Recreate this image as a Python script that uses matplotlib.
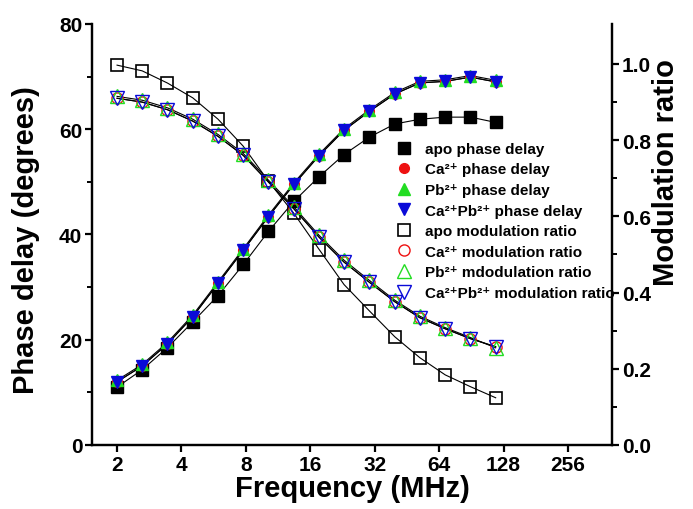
import numpy as np
import matplotlib
matplotlib.use('Agg')
from matplotlib import pyplot as plt
from matplotlib.ticker import FixedLocator, NullLocator

plt.rcParams['font.family'] = ['Liberation Sans', 'DejaVu Sans']
plt.rcParams['font.weight'] = 'bold'

# Modulation frequencies (MHz)
freq = [2.0, 2.62, 3.44, 4.52, 5.93, 7.78, 10.2, 13.4, 17.6, 23.0,
        30.2, 39.7, 52.0, 68.3, 89.6, 117.5]

# Phase delay (degrees)
apo_phase = [11.0, 14.3, 18.5, 23.4, 28.4, 34.3, 40.6, 46.3, 51.0, 55.2,
             58.5, 61.0, 61.9, 62.3, 62.3, 61.3]
ca_phase = [12.0, 15.0, 19.2, 24.4, 30.7, 37.0, 43.4, 49.5, 55.0, 59.8,
            63.4, 66.7, 68.8, 69.1, 69.9, 69.0]
pb_phase = [12.3, 15.3, 19.5, 24.7, 31.0, 37.3, 43.7, 49.8, 55.3, 60.1,
            63.7, 67.0, 69.1, 69.4, 70.2, 69.3]
capb_phase = [12.0, 15.0, 19.2, 24.4, 30.7, 37.0, 43.4, 49.5, 55.0, 59.8,
              63.4, 66.7, 68.8, 69.1, 69.9, 69.0]

# Modulation ratio
apo_mod = [0.997, 0.982, 0.950, 0.911, 0.855, 0.784, 0.692, 0.608, 0.513, 0.421,
           0.352, 0.284, 0.229, 0.184, 0.153, 0.124]
ca_mod = [0.910, 0.900, 0.880, 0.850, 0.810, 0.760, 0.690, 0.620, 0.545, 0.480,
          0.427, 0.376, 0.334, 0.305, 0.279, 0.258]
pb_mod = [0.915, 0.905, 0.885, 0.855, 0.815, 0.765, 0.695, 0.625, 0.550, 0.485,
          0.432, 0.380, 0.338, 0.308, 0.282, 0.255]
capb_mod = [0.910, 0.900, 0.880, 0.850, 0.810, 0.760, 0.690, 0.620, 0.545, 0.480,
            0.427, 0.376, 0.334, 0.305, 0.279, 0.258]

xticks = [2, 4, 8, 16, 32, 64, 128, 256]

BLUE = '#0a0ad8'
GREEN = '#22dd22'
RED = '#ee1111'

fig = plt.figure(figsize=(6.93, 5.10), dpi=100)
ax = fig.add_axes([0.1328, 0.1255, 0.7504, 0.8255])
ax2 = ax.twinx()

# fit lines
for ys in (apo_phase, ca_phase, pb_phase, capb_phase):
    ax.plot(freq, ys, color='k', lw=0.8, zorder=1)
for ys in (apo_mod, ca_mod, pb_mod, capb_mod):
    ax2.plot(freq, ys, color='k', lw=0.8, zorder=1)

h = []
h += ax.plot(freq, apo_phase, 's', color='k', ms=8, label='apo phase delay', zorder=3)
h += ax.plot(freq, ca_phase, 'o', color=RED, ms=7, label='Ca²⁺ phase delay', zorder=3)
h += ax.plot(freq, pb_phase, '^', color=GREEN, ms=9, label='Pb²⁺ phase delay', zorder=3)
h += ax.plot(freq, capb_phase, 'v', color=BLUE, ms=9, label='Ca²⁺Pb²⁺ phase delay', zorder=3)
h += ax2.plot(freq, apo_mod, 's', mfc='none', mec='k', mew=1.2, ms=9,
              label='apo modulation ratio', zorder=3)
h += ax2.plot(freq, ca_mod, 'o', mfc='none', mec=RED, mew=1.0, ms=8,
              label='Ca²⁺ modulation ratio', zorder=3)
h += ax2.plot(freq, pb_mod, '^', mfc='none', mec=GREEN, mew=1.0, ms=10,
              label='Pb²⁺ mdodulation ratio', zorder=3)
h += ax2.plot(freq, capb_mod, 'v', mfc='none', mec=BLUE, mew=1.0, ms=10,
              label='Ca²⁺Pb²⁺ modulation ratio', zorder=3)

ax.set_xscale('log', base=2)
ax.set_xlim(1.528, 411)
ax.xaxis.set_major_locator(FixedLocator(xticks))
ax.xaxis.set_minor_locator(NullLocator())
ax.set_xticklabels([str(t) for t in xticks])

ax.set_ylim(0, 80)
ax.set_yticks([0, 20, 40, 60, 80])
ax.yaxis.set_minor_locator(FixedLocator([10, 30, 50, 70]))
ax2.set_ylim(0, 1.105)
ax2.set_yticks([0.0, 0.2, 0.4, 0.6, 0.8, 1.0])
ax2.set_yticklabels(['0.0', '0.2', '0.4', '0.6', '0.8', '1.0'])
ax2.yaxis.set_minor_locator(FixedLocator([0.1, 0.3, 0.5, 0.7, 0.9]))

for a in (ax, ax2):
    a.spines['top'].set_visible(False)
    for s in ('left', 'right', 'bottom'):
        a.spines[s].set_linewidth(1.6)
    a.tick_params(which='major', direction='out', length=5, width=1.6,
                  labelsize=15, pad=2)
    a.tick_params(which='minor', direction='out', length=3.5, width=1.4)

ax.set_xlabel('Frequency (MHz)', fontsize=21, fontweight='bold', labelpad=0)
ax.set_ylabel('Phase delay (degrees)', fontsize=21, fontweight='bold', labelpad=14)
ax2.set_ylabel('Modulation ratio', fontsize=21, fontweight='bold', labelpad=1)
ax.yaxis.label.set_y(0.49)
ax2.yaxis.label.set_y(0.65)

ax2.legend(handles=h, loc='upper left', bbox_to_anchor=(0.585, 0.72),
           frameon=False, fontsize=11, handlelength=1.0, handletextpad=0.85,
           labelspacing=0.43, borderaxespad=0, borderpad=0)

fig.savefig('out.png', dpi=100)
